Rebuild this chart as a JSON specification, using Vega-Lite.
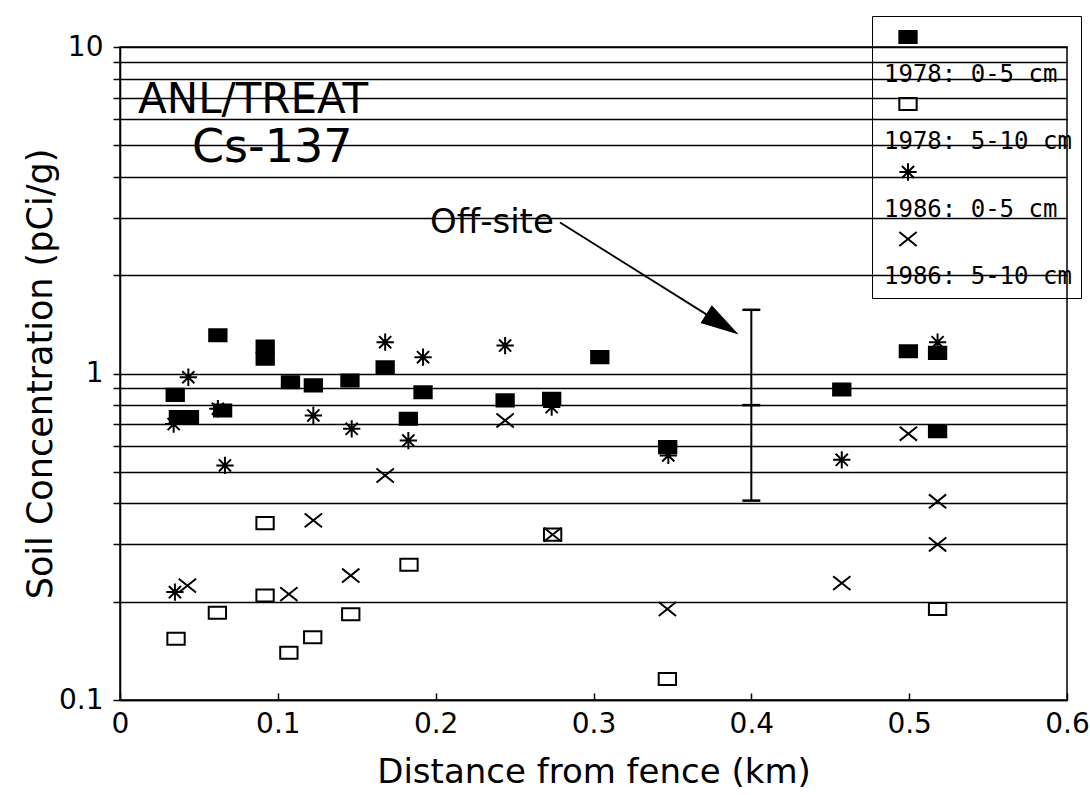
{
  "$schema": "https://vega.github.io/schema/vega-lite/v6.json",
  "width": 947,
  "height": 653,
  "autosize": {"type": "none"},
  "padding": {"left": 120, "top": 47, "right": 23, "bottom": 95},
  "background": "white",
  "config": {
    "font": "DejaVu Sans",
    "view": {"stroke": "black", "strokeWidth": 1.5},
    "axis": {
      "domainColor": "black", "domainWidth": 1.5,
      "tickColor": "black", "tickWidth": 1.5,
      "labelColor": "black", "titleColor": "black",
      "labelFont": "DejaVu Sans", "titleFont": "DejaVu Sans",
      "titleFontWeight": "normal", "labelFontSize": 28, "titleFontSize": 34
    },
    "legend": {
      "orient": "none", "legendX": 752, "legendY": -31, "title": null,
      "strokeColor": "black", "padding": 9,
      "symbolSize": 300, "symbolStrokeColor": "black", "symbolStrokeWidth": 2,
      "symbolOffset": 15,
      "labelFont": "DejaVu Sans Mono", "labelFontSize": 24, "labelColor": "black",
      "labelBaseline": "top", "labelOffset": -36, "rowPadding": 5, "labelLimit": 400
    }
  },
  "datasets": {
    "pts": [
      {"s": "1978: 0-5 cm", "d": 0.035, "c": 0.86},
      {"s": "1978: 0-5 cm", "d": 0.037, "c": 0.735},
      {"s": "1978: 0-5 cm", "d": 0.044, "c": 0.735},
      {"s": "1978: 0-5 cm", "d": 0.062, "c": 1.31},
      {"s": "1978: 0-5 cm", "d": 0.065, "c": 0.77},
      {"s": "1978: 0-5 cm", "d": 0.092, "c": 1.21},
      {"s": "1978: 0-5 cm", "d": 0.092, "c": 1.11},
      {"s": "1978: 0-5 cm", "d": 0.108, "c": 0.94},
      {"s": "1978: 0-5 cm", "d": 0.1225, "c": 0.92},
      {"s": "1978: 0-5 cm", "d": 0.1457, "c": 0.952},
      {"s": "1978: 0-5 cm", "d": 0.168, "c": 1.045},
      {"s": "1978: 0-5 cm", "d": 0.1827, "c": 0.727},
      {"s": "1978: 0-5 cm", "d": 0.192, "c": 0.876},
      {"s": "1978: 0-5 cm", "d": 0.244, "c": 0.827},
      {"s": "1978: 0-5 cm", "d": 0.2735, "c": 0.837},
      {"s": "1978: 0-5 cm", "d": 0.304, "c": 1.122},
      {"s": "1978: 0-5 cm", "d": 0.347, "c": 0.595},
      {"s": "1978: 0-5 cm", "d": 0.4573, "c": 0.893},
      {"s": "1978: 0-5 cm", "d": 0.4995, "c": 1.17},
      {"s": "1978: 0-5 cm", "d": 0.518, "c": 1.157},
      {"s": "1978: 0-5 cm", "d": 0.518, "c": 0.666},
      {"s": "1978: 5-10 cm", "d": 0.0355, "c": 0.154},
      {"s": "1978: 5-10 cm", "d": 0.0617, "c": 0.185},
      {"s": "1978: 5-10 cm", "d": 0.0919, "c": 0.348},
      {"s": "1978: 5-10 cm", "d": 0.0919, "c": 0.209},
      {"s": "1978: 5-10 cm", "d": 0.107, "c": 0.1395},
      {"s": "1978: 5-10 cm", "d": 0.1221, "c": 0.1557},
      {"s": "1978: 5-10 cm", "d": 0.1462, "c": 0.183},
      {"s": "1978: 5-10 cm", "d": 0.1831, "c": 0.2595},
      {"s": "1978: 5-10 cm", "d": 0.2741, "c": 0.321},
      {"s": "1978: 5-10 cm", "d": 0.3468, "c": 0.116},
      {"s": "1978: 5-10 cm", "d": 0.518, "c": 0.19},
      {"s": "1986: 0-5 cm", "d": 0.034, "c": 0.70},
      {"s": "1986: 0-5 cm", "d": 0.0348, "c": 0.214},
      {"s": "1986: 0-5 cm", "d": 0.0433, "c": 0.974},
      {"s": "1986: 0-5 cm", "d": 0.062, "c": 0.78},
      {"s": "1986: 0-5 cm", "d": 0.0665, "c": 0.523},
      {"s": "1986: 0-5 cm", "d": 0.1225, "c": 0.744},
      {"s": "1986: 0-5 cm", "d": 0.1468, "c": 0.677},
      {"s": "1986: 0-5 cm", "d": 0.168, "c": 1.247},
      {"s": "1986: 0-5 cm", "d": 0.1827, "c": 0.623},
      {"s": "1986: 0-5 cm", "d": 0.192, "c": 1.122},
      {"s": "1986: 0-5 cm", "d": 0.244, "c": 1.218},
      {"s": "1986: 0-5 cm", "d": 0.2735, "c": 0.789},
      {"s": "1986: 0-5 cm", "d": 0.3474, "c": 0.561},
      {"s": "1986: 0-5 cm", "d": 0.4573, "c": 0.544},
      {"s": "1986: 0-5 cm", "d": 0.518, "c": 1.247},
      {"s": "1986: 5-10 cm", "d": 0.0427, "c": 0.224},
      {"s": "1986: 5-10 cm", "d": 0.107, "c": 0.211},
      {"s": "1986: 5-10 cm", "d": 0.1225, "c": 0.355},
      {"s": "1986: 5-10 cm", "d": 0.1462, "c": 0.2405},
      {"s": "1986: 5-10 cm", "d": 0.168, "c": 0.487},
      {"s": "1986: 5-10 cm", "d": 0.244, "c": 0.718},
      {"s": "1986: 5-10 cm", "d": 0.2741, "c": 0.321},
      {"s": "1986: 5-10 cm", "d": 0.3468, "c": 0.19},
      {"s": "1986: 5-10 cm", "d": 0.4573, "c": 0.228},
      {"s": "1986: 5-10 cm", "d": 0.4995, "c": 0.654},
      {"s": "1986: 5-10 cm", "d": 0.518, "c": 0.406},
      {"s": "1986: 5-10 cm", "d": 0.518, "c": 0.2995}
    ],
    "offsite": [{"d": 0.4, "lo": 0.408, "hi": 1.567}],
    "caps": [{"d": 0.4, "c": 1.567}, {"d": 0.4, "c": 0.80}, {"d": 0.4, "c": 0.408}],
    "arrow": [{"d": 0.2788, "c": 2.90, "d2": 0.3748, "c2": 1.483}],
    "arrowhead": [{"d": 0.391, "c": 1.326}],
    "title1": [{"t": "ANL/TREAT", "d": 0.0114, "c": 6.3}],
    "title2": [{"t": "Cs-137", "d": 0.0456, "c": 4.43}],
    "smalltext": [{"t": "Off-site", "d": 0.1964, "c": 2.685}]
  },
  "layer": [
    {
      "data": {"name": "pts"},
      "mark": {"type": "point", "filled": false, "strokeWidth": 2, "size": 300, "opacity": 1},
      "encoding": {
        "x": {
          "field": "d", "type": "quantitative",
          "scale": {"domain": [0, 0.6], "nice": false, "zero": false},
          "axis": {
            "values": [0, 0.1, 0.2, 0.3, 0.4, 0.5, 0.6],
            "labelExpr": "datum.value == 0 ? '0' : format(datum.value, '.1f')",
            "grid": false, "tickSize": -7, "labelPadding": 17, "labelFlush": false,
            "title": "Distance from fence (km)", "titleY": 72, "titleBaseline": "middle"
          }
        },
        "y": {
          "field": "c", "type": "quantitative",
          "scale": {"type": "log", "domain": [0.1, 10], "nice": false},
          "axis": {
            "values": [0.1, 0.2, 0.3, 0.4, 0.5, 0.6, 0.7, 0.8, 0.9, 1, 2, 3, 4, 5, 6, 7, 8, 9, 10],
            "labelExpr": "datum.value == 0.1 ? '0.1' : datum.value == 1 ? '1' : datum.value == 10 ? '10' : ''",
            "grid": true, "gridColor": "black", "gridWidth": 1.3, "gridOpacity": 1,
            "tickSize": 7, "labelPadding": 10, "labelFlush": false, "labelOverlap": false,
            "title": "Soil Concentration (pCi/g)", "titleX": -80, "titleBaseline": "middle", "titleFontSize": 35
          }
        },
        "shape": {
          "field": "s", "type": "nominal",
          "scale": {
            "domain": ["1978: 0-5 cm", "1978: 5-10 cm", "1986: 0-5 cm", "1986: 5-10 cm"],
            "range": ["M-1,-0.7H1V0.7H-1Z", "M-1,-0.7H1V0.7H-1Z", "M-1,0H1M0,-1V1M-0.7,-0.7L0.7,0.7M-0.7,0.7L0.7,-0.7", "M-1,-0.8L1,0.8M-1,0.8L1,-0.8"]
          },
          "legend": {"labelExpr": "['', datum.label]"}
        },
        "fill": {
          "field": "s", "type": "nominal",
          "scale": {
            "domain": ["1978: 0-5 cm", "1978: 5-10 cm", "1986: 0-5 cm", "1986: 5-10 cm"],
            "range": ["black", "transparent", "transparent", "transparent"]
          },
          "legend": {"labelExpr": "['', datum.label]"}
        },
        "stroke": {
          "field": "s", "type": "nominal",
          "scale": {
            "domain": ["1978: 0-5 cm", "1978: 5-10 cm", "1986: 0-5 cm", "1986: 5-10 cm"],
            "range": ["black", "black", "black", "black"]
          },
          "legend": {"labelExpr": "['', datum.label]"}
        }
      }
    },
    {
      "data": {"name": "offsite"},
      "mark": {"type": "rule", "color": "black", "strokeWidth": 2},
      "encoding": {
        "x": {"field": "d", "type": "quantitative"},
        "y": {"field": "lo", "type": "quantitative"},
        "y2": {"field": "hi"}
      }
    },
    {
      "data": {"name": "caps"},
      "mark": {"type": "tick", "orient": "horizontal", "color": "black", "size": 18, "thickness": 2.5, "opacity": 1},
      "encoding": {
        "x": {"field": "d", "type": "quantitative"},
        "y": {"field": "c", "type": "quantitative"}
      }
    },
    {
      "data": {"name": "arrow"},
      "mark": {"type": "rule", "color": "black", "strokeWidth": 1.8},
      "encoding": {
        "x": {"field": "d", "type": "quantitative"},
        "y": {"field": "c", "type": "quantitative"},
        "x2": {"field": "d2"},
        "y2": {"field": "c2"}
      }
    },
    {
      "data": {"name": "arrowhead"},
      "mark": {"type": "point", "shape": "M0,0L-2,-0.55L-2,0.55Z", "size": 1296, "angle": 32, "filled": true, "fill": "black", "stroke": "black", "strokeWidth": 1, "opacity": 1},
      "encoding": {
        "x": {"field": "d", "type": "quantitative"},
        "y": {"field": "c", "type": "quantitative"}
      }
    },
    {
      "data": {"name": "title1"},
      "mark": {"type": "text", "align": "left", "baseline": "alphabetic", "font": "DejaVu Sans", "fontSize": 42, "color": "black"},
      "encoding": {
        "x": {"field": "d", "type": "quantitative"},
        "y": {"field": "c", "type": "quantitative"},
        "text": {"field": "t"}
      }
    },
    {
      "data": {"name": "title2"},
      "mark": {"type": "text", "align": "left", "baseline": "alphabetic", "font": "DejaVu Sans", "fontSize": 46, "color": "black"},
      "encoding": {
        "x": {"field": "d", "type": "quantitative"},
        "y": {"field": "c", "type": "quantitative"},
        "text": {"field": "t"}
      }
    },
    {
      "data": {"name": "smalltext"},
      "mark": {"type": "text", "align": "left", "baseline": "alphabetic", "font": "DejaVu Sans", "fontSize": 34, "color": "black"},
      "encoding": {
        "x": {"field": "d", "type": "quantitative"},
        "y": {"field": "c", "type": "quantitative"},
        "text": {"field": "t"}
      }
    }
  ]
}
